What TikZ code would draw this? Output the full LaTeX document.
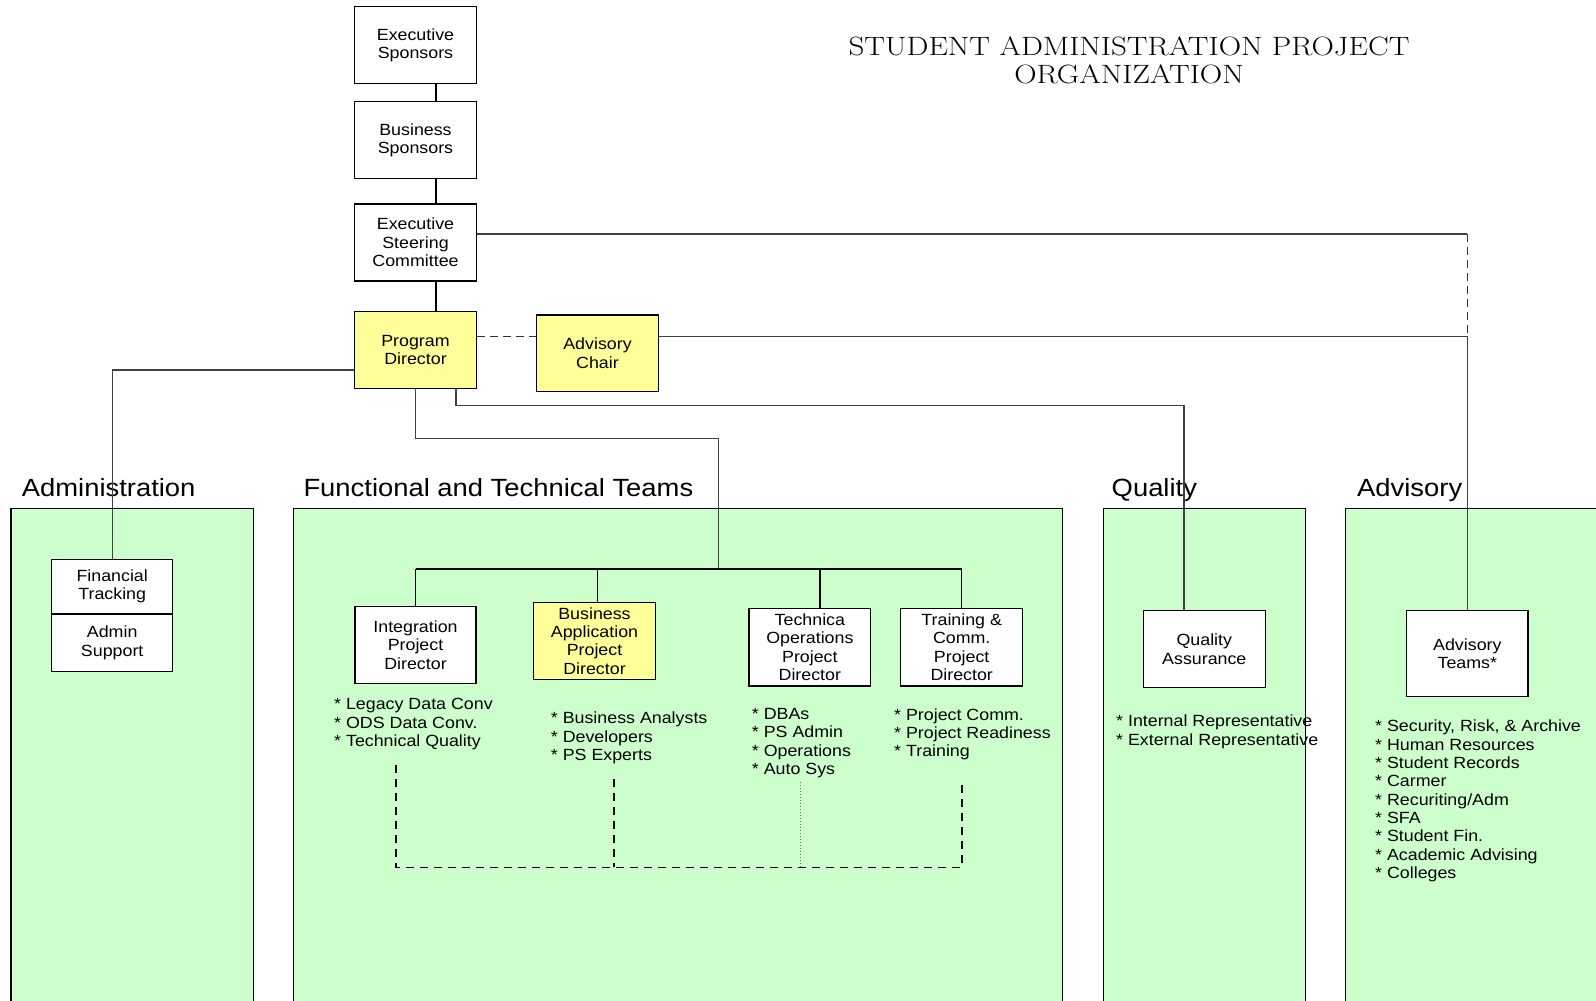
\documentclass[tikz,border=0pt]{standalone}
\usepackage{fontspec}
\newfontfamily\sfont{Liberation Sans}[FakeStretch=1.1]
\newcommand\boxfont{\sfont\fontsize{16.2}{18.3}\selectfont}
\definecolor{pgreen}{HTML}{CCFFCC}
\definecolor{pyellow}{HTML}{FFFF99}
\begin{document}
\begin{tikzpicture}[x=1pt,y=-1pt,
  box/.style={draw=black,line width=1.4pt,fill=white,inner sep=0pt,align=center,font=\boxfont,minimum width=121.6pt,minimum height=76.6pt},
  ybox/.style={box,fill=pyellow},
  panel/.style={draw=black,line width=1.5pt,fill=pgreen},
  sect/.style={anchor=base west,inner sep=0pt,font=\sfont\fontsize{24.9}{28}\selectfont},
  blist/.style={anchor=north west,inner sep=0pt,align=left,font=\boxfont},
  link/.style={draw=black,line width=1.4pt},
  conn/.style={draw=black!75,line width=1.1pt},
  dlink/.style={draw=black,line width=1.6pt,dash pattern=on 8pt off 6pt},
  tdash/.style={draw=black!80,line width=1.1pt,dash pattern=on 8pt off 5pt},
  dotline/.style={draw=black!55,line width=0.9pt,dash pattern=on 1.5pt off 1.5pt}]
\useasboundingbox (0,0) rectangle (1596,1001);
\fill[white] (0,0) rectangle (1596,1001);
\clip (0,0) rectangle (1596,1001);

% panels
\draw[panel] (11,508.3) rectangle (253.3,1012);
\draw[panel] (293.3,508.3) rectangle (1062.7,1012);
\draw[panel] (1103.3,508.3) rectangle (1305.5,1012);
\draw[panel] (1345.7,508.3) rectangle (1620,1012);

% section labels
\node[sect] (lad) at (21.7,496.7) {Administration};
\node[sect] (lft) at (303.3,496.7) {Functional and Technical Teams};
\node[sect] (lq) at (1111.5,496.7) {Quality};
\node[sect] (la) at (1357,496.7) {Advisory};

% title
\node[align=center,inner sep=0pt,xscale=1.17,font=\fontsize{26.5}{27.5}\selectfont] (title) at (1129,60.5) {STUDENT ADMINISTRATION PROJECT\\ORGANIZATION};

% top boxes
\node[box] (es) at (415.5,45) {Executive\\Sponsors};
\node[box] (bs) at (415.5,140) {Business\\Sponsors};
\node[box,minimum height=77pt] (esc) at (415.5,242.5) {Executive\\Steering\\Committee};
\node[ybox] (pd) at (415.5,350) {Program\\Director};
\node[ybox,minimum height=76.7pt] (ac) at (597.5,353.3) {Advisory\\Chair};

% admin
\node[box,minimum width=121pt,minimum height=54.7pt] (ft) at (112.2,586.65) {Financial\\Tracking};
\node[box,minimum width=121pt,minimum height=57.7pt] (as) at (112.2,642.85) {Admin\\Support};

% teams
\node[box,minimum width=121pt] (ipd) at (415.5,645) {Integration\\Project\\Director};
\node[ybox] (bapd) at (594.5,641) {Business\\Application\\Project\\Director};
\node[box,minimum width=121.7pt,minimum height=77.7pt] (tpd) at (809.85,647.15) {Technica\\Operations\\Project\\Director};
\node[box,minimum width=122pt,minimum height=77.7pt] (trpd) at (961.7,647.15) {Training \&\\Comm.\\Project\\Director};
\node[box,minimum width=122pt,minimum height=77pt] (qa) at (1204.3,649.2) {Quality\\Assurance};
\node[box,minimum width=121.3pt,minimum height=86pt] (at) at (1467.35,653.7) {Advisory\\Teams*};

% bullet lists
\node[blist] (bi) at (334,698.3) {* Legacy Data Conv\\* ODS Data Conv.\\* Technical Quality};
\node[blist] (bb) at (550.7,712) {* Business Analysts\\* Developers\\* PS Experts};
\node[blist] (bt) at (751.7,708.3) {* DBAs\\* PS Admin\\* Operations\\* Auto Sys};
\node[blist] (btr) at (894,708.3) {* Project Comm.\\* Project Readiness\\* Training};
\node[blist] (bq) at (1116,715) {* Internal Representative\\* External Representative};
\node[blist] (ba) at (1375,720) {* Security, Risk, \& Archive\\* Human Resources\\* Student Records\\* Carmer\\* Recuriting/Adm\\* SFA\\* Student Fin.\\* Academic Advising\\* Colleges};

% top chain
\draw[link] ([xshift=20.5pt]es.south) -- ([xshift=20.5pt]bs.north);
\draw[link] ([xshift=20.5pt]bs.south) -- ([xshift=20.5pt]esc.north);
\draw[link] ([xshift=20.5pt]esc.south) -- ([xshift=20.5pt]pd.north);

% coordinates
\coordinate (yTop) at (0,234);
\coordinate (yAC) at (0,336.7);
\coordinate (yAd) at (0,370);
\coordinate (y1) at (0,438.7);
\coordinate (x1) at (718.6,0);
\coordinate (bar) at (0,569);

% executive steering to advisory teams
\draw[conn] (esc.east |- yTop) -- (at.north |- yTop);
\draw[tdash] (at.north |- yTop) -- (at.north |- yAC);
% program director - advisory chair
\draw[tdash] (pd.east |- yAC) -- (ac.west |- yAC);
\draw[conn] (ac.east |- yAC) -- (at.north |- yAC) -- (at.north);
% program director to admin
\draw[conn] (pd.west |- yAd) -| (ft.north);
% program director to QA
\draw[conn] ([xshift=40.5pt]pd.south) -- ++(0,16.7) -| ([xshift=-20.3pt]qa.north);
% program director to teams
\draw[conn] (pd.south) -- (pd.south |- y1) -- (x1 |- y1) -- (x1 |- bar);
\draw[link] (ipd.north |- bar) -- (trpd.north |- bar);
\draw[link] (ipd.north |- bar) -- (ipd.north);
\draw[link] ([xshift=2.8pt]bapd.north |- bar) -- ([xshift=2.8pt]bapd.north);
\draw[link] ([xshift=10pt]tpd.north |- bar) -- ([xshift=10pt]tpd.north);
\draw[link] (trpd.north |- bar) -- (trpd.north);

% dashed bottom links
\coordinate (dA) at (396,765);
\coordinate (dB) at (614,779);
\coordinate (dC) at (800,781.7);
\coordinate (dD) at (961.7,781.7);
\coordinate (yB) at (0,867.3);
\draw[dlink] (dA) -- (dA |- yB) -- (dD |- yB) -- (dD);
\draw[dlink] (dB) -- (dB |- yB);
\draw[dotline] (dC) -- (dC |- yB);
\end{tikzpicture}
\end{document}
